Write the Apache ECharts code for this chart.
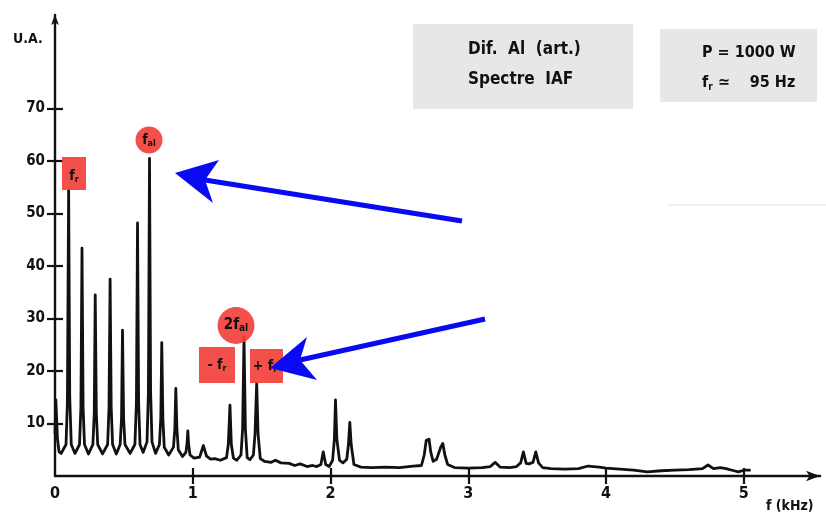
<!DOCTYPE html>
<html>
<head>
<meta charset="utf-8">
<script src="https://cdn.jsdelivr.net/npm/echarts@6/dist/echarts.min.js"></script>
<style>
html,body{margin:0;padding:0;background:#fff;}
#c{width:826px;height:519px;}
</style>
</head>
<body>
<div id="c"></div>
<script>
// ---- data (frequency in kHz, amplitude in U.A.) ----
const freq = [
  0.000,0.006,0.018,0.030,0.045,
  0.080,0.090,0.099,0.107,0.118,0.145,
  0.178,0.188,0.196,0.204,0.214,0.243,
  0.275,0.285,0.292,0.300,0.310,0.345,
  0.382,0.392,0.400,0.408,0.418,0.445,
  0.473,0.483,0.490,0.498,0.508,0.545,
  0.580,0.591,0.599,0.607,0.617,0.640,
  0.668,0.678,0.686,0.694,0.704,0.730,
  0.758,0.768,0.775,0.783,0.793,0.825,
  0.860,0.870,0.877,0.885,0.895,0.925,
  0.950,0.958,0.964,0.970,0.980,1.010,
  1.050,1.077,1.100,1.130,1.160,1.200,
  1.245,1.258,1.270,1.280,1.295,1.320,
  1.350,1.362,1.372,1.382,1.395,1.415,
  1.440,1.452,1.464,1.474,1.490,
  1.520,1.570,1.600,1.640,1.700,1.740,1.780,1.830,1.870,1.900,
  1.930,1.947,1.965,1.990,
  2.015,2.028,2.036,2.046,2.065,2.090,
  2.118,2.130,2.140,2.150,2.170,
  2.220,2.300,2.400,2.500,2.600,2.660,
  2.680,2.695,2.715,2.728,2.745,
  2.770,2.800,2.815,2.830,2.850,
  2.900,3.000,3.100,3.160,3.195,3.230,3.300,3.350,
  3.380,3.400,3.420,3.440,3.470,3.490,3.510,3.540,
  3.600,3.700,3.800,3.870,3.950,4.000,4.100,4.200,4.300,4.400,4.500,4.600,
  4.700,4.740,4.780,4.830,4.870,4.930,4.960,5.000,5.050
];
const amp = [
  8,14.5,7,4.6,4.3,
  6,14,54.5,15,6,4.3,
  6,13,43.4,13,6,4.2,
  6,12,34.5,12,6,4.2,
  6,13,37.5,13,6,4.2,
  6,11,27.8,11,6,4.3,
  6,14,48.2,14,6,4.5,
  6.5,16,60.5,16,6.5,4.3,
  6,11,25.4,11,5.5,4.0,
  5.5,9,16.7,9,5,3.7,
  4.5,6,8.6,6,4,3.4,
  3.6,5.8,3.8,3.2,3.3,3.0,
  3.5,6,13.5,6,3.4,3.0,
  4,9,26.5,9,3.5,3.1,
  4,8,17.7,8,3.3,
  2.8,2.6,3.0,2.5,2.4,2.0,2.3,1.8,2.0,1.8,
  2.2,4.6,2.2,1.8,
  3,7,14.5,7,3,2.5,
  3.2,6,10.2,6,2.2,
  1.7,1.6,1.7,1.6,1.9,2.0,
  4,6.8,7.0,4.5,2.8,
  3.2,5.5,6.2,4,2.2,
  1.6,1.5,1.6,1.8,2.6,1.7,1.6,1.8,
  2.5,4.6,2.4,2.3,2.6,4.6,2.5,1.6,
  1.4,1.3,1.4,1.9,1.7,1.5,1.3,1.1,0.8,1.0,1.1,1.2,
  1.4,2.1,1.4,1.6,1.4,1.0,0.8,1.1,1.1
];
const yTickValues = [10,20,30,40,50,60,70];
const xTickValues = [0,1,2,3,4,5];

const FONT = "'Liberation Sans Narrow','DejaVu Sans Condensed','Roboto Condensed','DejaVu Sans',sans-serif";
const RED = 'rgba(242,64,60,0.92)';
const BLUE = '#0a0af2';
const GRAY = '#e7e7e7';

const chart = echarts.init(document.getElementById('c'), null, {renderer:'canvas'});

const option = {
  animation:false,
  backgroundColor:'#fff',
  grid:{left:55, right:6, top:15, bottom:43, containLabel:false},
  xAxis:[{
    type:'value', min:0, max:5.553, interval:1,
    splitLine:{show:false},
    axisLine:{show:true, symbol:['none','arrow'], symbolSize:[8,14], lineStyle:{color:'#111', width:2.4}},
    axisTick:{show:true, length:8, customValues:[1,2,3,4,5], lineStyle:{color:'#111', width:2.2}},
    axisLabel:{show:true, customValues:xTickValues, margin:10, color:'#111', fontSize:16, fontWeight:'bold', fontFamily:FONT}
  },{
    type:'value', min:0, max:5.553, interval:1, position:'bottom',
    splitLine:{show:false}, axisLine:{show:false}, axisLabel:{show:false},
    axisTick:{show:true, inside:true, length:8, customValues:[1,2,3,4,5], lineStyle:{color:'#111', width:2.2}}
  }],
  yAxis:[{
    type:'value', min:0, max:87.8, interval:10,
    splitLine:{show:false},
    axisLine:{show:true, symbol:['none','arrow'], symbolSize:[6,10], lineStyle:{color:'#111', width:2.4}},
    axisTick:{show:true, length:8, customValues:yTickValues, lineStyle:{color:'#111', width:2.2}},
    axisLabel:{show:true, customValues:yTickValues, margin:10, color:'#111', fontSize:15, fontWeight:'bold', fontFamily:FONT}
  },{
    type:'value', min:0, max:87.8, interval:10, position:'left',
    splitLine:{show:false}, axisLine:{show:false}, axisLabel:{show:false},
    axisTick:{show:true, inside:true, length:8, customValues:yTickValues, lineStyle:{color:'#111', width:2.2}}
  }],
  series:[{
    type:'line',
    xAxisIndex:0, yAxisIndex:0,
    data: freq.map((f,i)=>[f, amp[i]]),
    showSymbol:false,
    lineStyle:{color:'#111', width:2.8, join:'round'},
    z:3
  }],
  graphic:[
    // axis names
    {type:'text', left:13, top:32, z:10, style:{text:'U.A.', fill:'#111', font:"bold 14px "+FONT}},
    {type:'text', left:766, top:499, z:10, style:{text:'f (kHz)', fill:'#111', font:"bold 14px "+FONT}},
    // info boxes
    {type:'rect', shape:{x:413, y:24, width:220, height:85}, style:{fill:GRAY}, z:1},
    {type:'text', x:468, y:50, z:2, style:{text:'Dif.  Al  (art.)', fill:'#111', font:"bold 17px "+FONT, verticalAlign:'middle'}},
    {type:'text', x:468, y:80, z:2, style:{text:'Spectre  IAF', fill:'#111', font:"bold 17px "+FONT, verticalAlign:'middle'}},
    {type:'rect', shape:{x:660, y:29, width:157, height:73}, style:{fill:GRAY}, z:1},
    {type:'text', x:702, y:53, z:2, style:{text:'P = 1000 W', fill:'#111', font:"bold 16px "+FONT, verticalAlign:'middle'}},
    {type:'text', x:702, y:83, z:2, style:{text:'{b|f}{s|r}{b| ≃    95 Hz}', verticalAlign:'middle',
      rich:{b:{fill:'#111', fontSize:16, fontWeight:'bold', fontFamily:FONT}, s:{fill:'#111', fontSize:10, fontWeight:'bold', fontFamily:FONT, padding:[8,0,0,0]}}}},
    {type:'line', shape:{x1:668, y1:205, x2:826, y2:205}, style:{stroke:'#efefef', lineWidth:2}, z:1},
    // red labels
    {type:'rect', shape:{x:62, y:157, width:24, height:33}, style:{fill:RED}, z:5},
    {type:'text', x:74, y:176, z:6, style:{text:'{b|f}{s|r}', align:'center', verticalAlign:'middle',
      rich:{b:{fill:'#111', fontSize:14, fontWeight:'bold', fontFamily:FONT}, s:{fill:'#111', fontSize:9, fontWeight:'bold', fontFamily:FONT, padding:[7,0,0,0]}}}},
    {type:'circle', shape:{cx:149, cy:140, r:13.5}, style:{fill:RED}, z:5},
    {type:'text', x:149, y:140, z:6, style:{text:'{b|f}{s|al}', align:'center', verticalAlign:'middle',
      rich:{b:{fill:'#111', fontSize:14, fontWeight:'bold', fontFamily:FONT}, s:{fill:'#111', fontSize:9, fontWeight:'bold', fontFamily:FONT, padding:[7,0,0,0]}}}},
    {type:'circle', shape:{cx:236, cy:325.5, r:18.5}, style:{fill:RED}, z:5},
    {type:'text', x:236, y:325, z:6, style:{text:'{b|2f}{s|al}', align:'center', verticalAlign:'middle',
      rich:{b:{fill:'#111', fontSize:15, fontWeight:'bold', fontFamily:FONT}, s:{fill:'#111', fontSize:10, fontWeight:'bold', fontFamily:FONT, padding:[7,0,0,0]}}}},
    {type:'rect', shape:{x:199, y:347, width:36, height:36}, style:{fill:RED}, z:5},
    {type:'text', x:217, y:365, z:6, style:{text:'{b|- f}{s|r}', align:'center', verticalAlign:'middle',
      rich:{b:{fill:'#111', fontSize:14, fontWeight:'bold', fontFamily:FONT}, s:{fill:'#111', fontSize:9, fontWeight:'bold', fontFamily:FONT, padding:[7,0,0,0]}}}},
    {type:'rect', shape:{x:250, y:349, width:33, height:34}, style:{fill:RED}, z:5},
    {type:'text', x:265, y:366, z:6, style:{text:'{b|+ f}{s|r}', align:'center', verticalAlign:'middle',
      rich:{b:{fill:'#111', fontSize:14, fontWeight:'bold', fontFamily:FONT}, s:{fill:'#111', fontSize:9, fontWeight:'bold', fontFamily:FONT, padding:[7,0,0,0]}}}},
    // blue arrows
    {type:'line', shape:{x1:462, y1:221, x2:205, y2:180}, style:{stroke:BLUE, lineWidth:5}, z:8},
    {type:'polygon', shape:{points:[[175,173],[219,160],[205,180],[213,203]]}, style:{fill:BLUE}, z:8},
    {type:'line', shape:{x1:485, y1:319, x2:300, y2:360}, style:{stroke:BLUE, lineWidth:5}, z:8},
    {type:'polygon', shape:{points:[[270,368],[307,337],[300,360],[317,380]]}, style:{fill:BLUE}, z:8}
  ]
};
chart.setOption(option);
</script>
</body>
</html>
